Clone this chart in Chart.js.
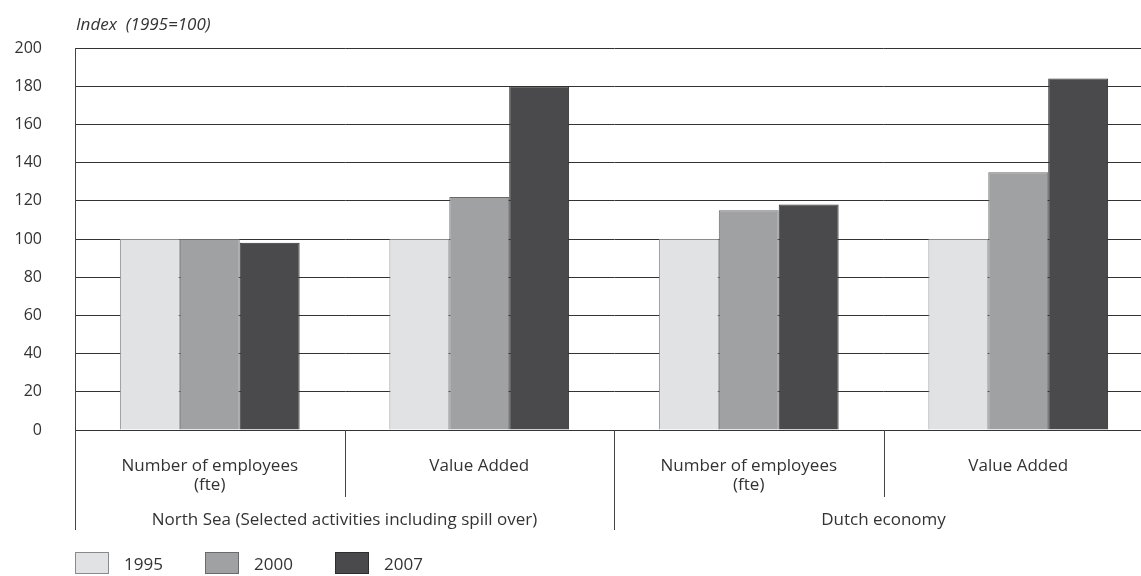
<!DOCTYPE html>
<html><head><meta charset="utf-8">
<script src="https://cdn.jsdelivr.net/npm/chart.js@4.4.1/dist/chart.umd.min.js"></script>
<style>html,body{margin:0;padding:0;overflow:hidden;background:#fff}#wrap{width:1153px;height:576px;position:relative}</style>
</head><body><div id="wrap"><canvas id="c"></canvas></div>
<script>
const categories = [['Number of employees','(fte)'], 'Value Added', ['Number of employees','(fte)'], 'Value Added'];
const groups = ['North Sea (Selected activities including spill over)', 'Dutch economy'];
const seriesNames = ['1995', '2000', '2007'];
const v1995 = [100, 100, 100, 100];
const v2000 = [100, 122, 115, 135];
const v2007 = [98, 180, 118, 184];
const yTicks = [0, 20, 40, 60, 80, 100, 120, 140, 160, 180, 200];
const yTitle = 'Index  (1995=100)';

const FONT = '"Open Sans", "Noto Sans", sans-serif';
const TXT = '#333';
const fills = ['#e1e2e4', '#a0a1a3', '#4a4a4c'];
const borders = ['#8a8a8c', '#6a6a6c', '#2e2e30'];

const extras = {
  id: 'extras',
  afterDraw(chart) {
    const ctx = chart.ctx, x = chart.scales.x, a = chart.chartArea;
    const n = categories.length;
    const step = x.getPixelForValue(1) - x.getPixelForValue(0);
    const bound = i => x.getPixelForValue(i) - step / 2;
    ctx.save();
    ctx.strokeStyle = '#444';
    ctx.lineWidth = 1;
    const line = (px, y0, y1) => { const p = Math.round(px) + 0.5; ctx.beginPath(); ctx.moveTo(p, y0); ctx.lineTo(p, y1); ctx.stroke(); };
    line(bound(0), a.top, 530);
    line(bound(1), a.bottom, 497);
    line(bound(3), a.bottom, 497);
    line(bound(2), a.bottom, 530);
    // group labels
    ctx.fillStyle = TXT;
    ctx.font = '17px ' + FONT;
    ctx.textAlign = 'center';
    ctx.textBaseline = 'middle';
    ctx.fillText(groups[0], (bound(0) + bound(2)) / 2, 520);
    ctx.fillText(groups[1], (bound(2) + bound(n)) / 2, 520);
    // title
    ctx.font = 'italic 17px ' + FONT;
    ctx.textAlign = 'left';
    ctx.fillText(yTitle, 76, 25);
    // legend
    ctx.font = '17px ' + FONT;
    chart.data.datasets.forEach((ds, i) => {
      const bx = 75 + i * 130, by = 552;
      ctx.fillStyle = ds.backgroundColor;
      ctx.fillRect(bx, by, 34, 22);
      ctx.strokeStyle = ds.borderColor;
      ctx.strokeRect(bx + 0.5, by + 0.5, 33, 21);
      ctx.fillStyle = TXT;
      ctx.fillText(ds.label, bx + 49, by + 13);
    });
    ctx.restore();
  }
};

new Chart(document.getElementById('c'), {
  type: 'bar',
  data: {
    labels: categories,
    datasets: [v1995, v2000, v2007].map((d, i) => ({
      label: seriesNames[i], data: d,
      backgroundColor: fills[i], borderColor: borders[i], borderWidth: 1,
      categoryPercentage: 0.667, barPercentage: 1
    }))
  },
  options: {
    responsive: true, maintainAspectRatio: false, animation: false,
    layout: { padding: { top: 48, right: 0, left: 0, bottom: 0 } },
    plugins: { legend: { display: false }, tooltip: { enabled: false } },
    scales: {
      y: {
        min: 0, max: 200,
        afterBuildTicks: s => { s.ticks = yTicks.map(v => ({ value: v })); },
        afterFit: s => { s.width = 75; },
        grid: { color: '#333', lineWidth: 1, drawTicks: false },
        border: { color: '#444', width: 1 },
        ticks: { color: TXT, font: { family: FONT, size: 16 }, padding: 33 }
      },
      x: {
        afterFit: s => { s.height = 146; },
        grid: { display: false, offset: true },
        border: { color: '#333', width: 1 },
        ticks: { color: TXT, font: { family: FONT, size: 17, lineHeight: 1.15 }, padding: 18, maxRotation: 0, autoSkip: false }
      }
    }
  },
  plugins: [extras]
});
</script></body></html>
